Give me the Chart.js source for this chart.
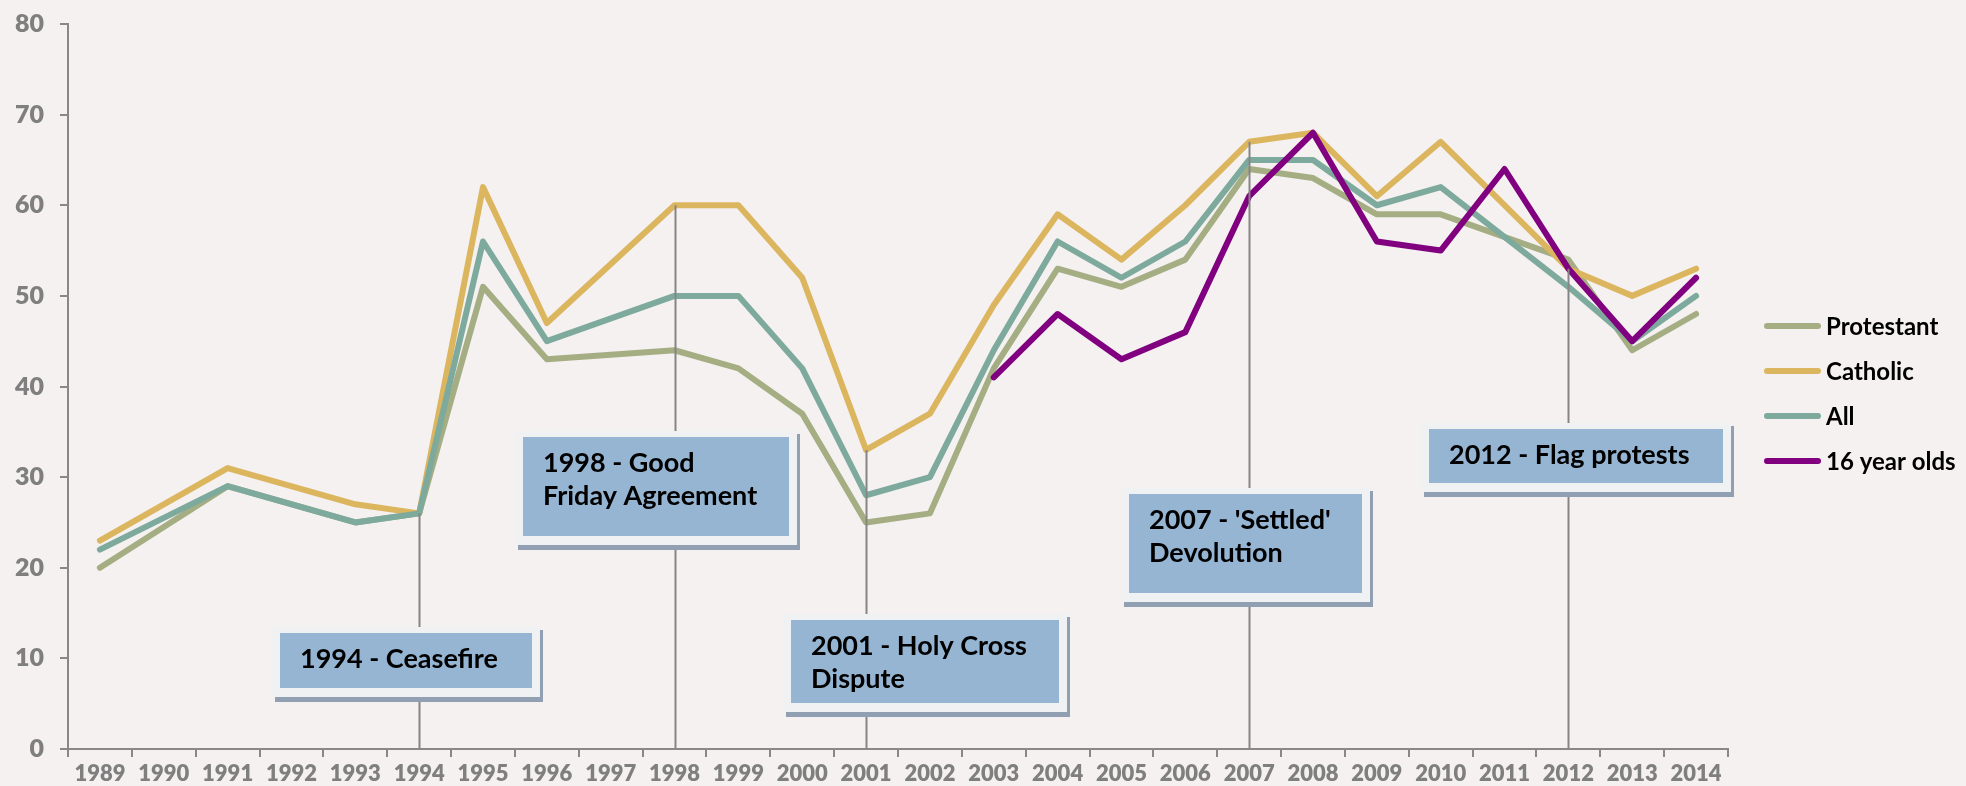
<!DOCTYPE html>
<html lang="en">
<head>
    <meta charset="UTF-8">
    <title>Interest in politics 1989-2014</title>
    <style>
        html, body { margin: 0; padding: 0; background: #f4f1f0; }
        .chart-container { position: relative; width: 1966px; height: 786px; }
    </style>
</head>
<body>
    <div class="chart-container">
        <canvas id="trendChart"></canvas>
    </div>

    <script src="https://cdn.jsdelivr.net/npm/chart.js"></script>
    <script>
        const years = ['1989', '1990', '1991', '1992', '1993', '1994', '1995', '1996', '1997', '1998',
            '1999', '2000', '2001', '2002', '2003', '2004', '2005', '2006', '2007', '2008',
            '2009', '2010', '2011', '2012', '2013', '2014'];

        // null = no survey that year, the line just runs across
        const protestant = [20, null, 29, null, 25, 26, 51, 43, null, 44, 42, 37, 25, 26, 42, 53, 51, 54, 64, 63, 59, 59, null, 54, 44, 48];
        const catholic = [23, null, 31, null, 27, 26, 62, 47, null, 60, 60, 52, 33, 37, 49, 59, 54, 60, 67, 68, 61, 67, null, 53, 50, 53];
        const all = [22, null, 29, null, 25, 26, 56, 45, null, 50, 50, 42, 28, 30, 44, 56, 52, 56, 65, 65, 60, 62, null, 51, 45, 50];
        const sixteenYearOlds = [null, null, null, null, null, null, null, null, null, null, null, null, null, null,
            41, 48, 43, 46, 61, 68, 56, 55, 64, 53, 45, 52];

        const yTicks = [0, 10, 20, 30, 40, 50, 60, 70, 80];

        const events = [
            { year: '1994', text: ['1994 - Ceasefire'] },
            { year: '1998', text: ['1998 - Good', 'Friday Agreement'] },
            { year: '2001', text: ['2001 - Holy Cross', 'Dispute'] },
            { year: '2007', text: ["2007 - 'Settled'", 'Devolution'] },
            { year: '2012', text: ['2012 - Flag protests'] }
        ];

        // where the call-out boxes sit (outer frame: left, top, right, bottom in px)
        const eventBoxes = [
            [272, 627, 540, 697],
            [515, 431, 797, 545],
            [783, 614, 1067, 712],
            [1121, 488, 1370, 602],
            [1421, 423, 1731, 492]
        ];

        const FONT = 'Lato, "Open Sans", sans-serif';

        // vertical drop lines + the blue text boxes
        const eventPlugin = {
            id: 'events',
            afterDatasetsDraw(chart) {
                const { ctx, scales: { x, y } } = chart;
                ctx.save();
                ctx.strokeStyle = '#858585';
                ctx.lineWidth = 2;
                events.forEach(ev => {
                    const i = years.indexOf(ev.year);
                    const px = Math.round(x.getPixelForValue(i)) + 0.5;
                    ctx.beginPath();
                    ctx.moveTo(px, y.getPixelForValue(catholic[i]));
                    ctx.lineTo(px, y.bottom);
                    ctx.stroke();
                });

                events.forEach((ev, k) => {
                    const [l, t, r, b] = eventBoxes[k];
                    ctx.fillStyle = '#909fb2';
                    ctx.fillRect(l + 3, t + 3, r - l, b - t + 2);
                    ctx.fillStyle = '#f0f1f3';
                    ctx.fillRect(l, t, r - l, b - t);
                    ctx.fillStyle = '#95b5d3';
                    ctx.fillRect(l + 8, t + 6, r - l - 16, b - t - 15);

                    ctx.fillStyle = '#000';
                    ctx.font = 'bold 27px ' + FONT;
                    ctx.textAlign = 'left';
                    ctx.textBaseline = 'alphabetic';
                    ev.text.forEach((line, n) => {
                        ctx.fillText(line, l + 28, t + 41 + n * 32.5);
                    });
                });
                ctx.restore();
            }
        };

        // legend on the right, drawn by hand so it sits where the original has it
        const sideLegend = {
            id: 'sideLegend',
            afterDraw(chart) {
                const { ctx } = chart;
                const sets = chart.data.datasets.slice().reverse();
                ctx.save();
                ctx.font = 'bold 24px ' + FONT;
                ctx.textBaseline = 'middle';
                ctx.lineCap = 'round';
                sets.forEach((ds, i) => {
                    const yy = 326 + i * 45;
                    ctx.strokeStyle = ds.borderColor;
                    ctx.lineWidth = 6;
                    ctx.beginPath();
                    ctx.moveTo(1767, yy);
                    ctx.lineTo(1818, yy);
                    ctx.stroke();
                    ctx.fillStyle = '#000';
                    ctx.fillText(ds.label, 1826, yy + 1);
                });
                ctx.restore();
            }
        };

        const lineStyle = color => ({
            borderColor: color,
            backgroundColor: color,
            borderWidth: 6,
            pointRadius: 0,
            borderCapStyle: 'round',
            borderJoinStyle: 'round',
            spanGaps: true,
            tension: 0
        });

        // first dataset is painted last, so the 16 year olds go on top
        const data = {
            labels: years,
            datasets: [
                { label: '16 year olds', data: sixteenYearOlds, ...lineStyle('#800080') },
                { label: 'All', data: all, ...lineStyle('#7eaa9d') },
                { label: 'Catholic', data: catholic, ...lineStyle('#dcb55f') },
                { label: 'Protestant', data: protestant, ...lineStyle('#a5ad83') }
            ]
        };

        new Chart(document.getElementById('trendChart'), {
            type: 'line',
            data,
            options: {
                responsive: true,
                maintainAspectRatio: false,
                animation: false,
                layout: { padding: { top: 24, right: 238, left: 0, bottom: 0 } },
                plugins: {
                    legend: { display: false },
                    tooltip: { enabled: false }
                },
                scales: {
                    x: {
                        offset: true,
                        grid: {
                            offset: true,
                            drawOnChartArea: false,
                            drawTicks: true,
                            tickLength: 8,
                            color: '#888',
                            lineWidth: 2
                        },
                        border: { color: '#888', width: 2 },
                        ticks: {
                            color: '#7f7f7f',
                            font: { family: FONT, size: 22, weight: '800' },
                            padding: 4,
                            maxRotation: 0,
                            autoSkip: false
                        },
                        afterFit: s => { s.height = 37; }
                    },
                    y: {
                        min: 0,
                        max: 80,
                        afterBuildTicks: s => { s.ticks = yTicks.map(v => ({ value: v })); },
                        grid: {
                            drawOnChartArea: false,
                            drawTicks: true,
                            tickLength: 8,
                            color: '#888',
                            lineWidth: 2
                        },
                        border: { color: '#888', width: 2 },
                        ticks: {
                            color: '#7f7f7f',
                            // small lineHeight so the top label does not push the plot down
                            font: { family: FONT, size: 25, weight: '800', lineHeight: 0.5 },
                            padding: 16
                        },
                        afterFit: s => { s.width = 68; }
                    }
                }
            },
            plugins: [eventPlugin, sideLegend]
        });
    </script>
</body>
</html>
